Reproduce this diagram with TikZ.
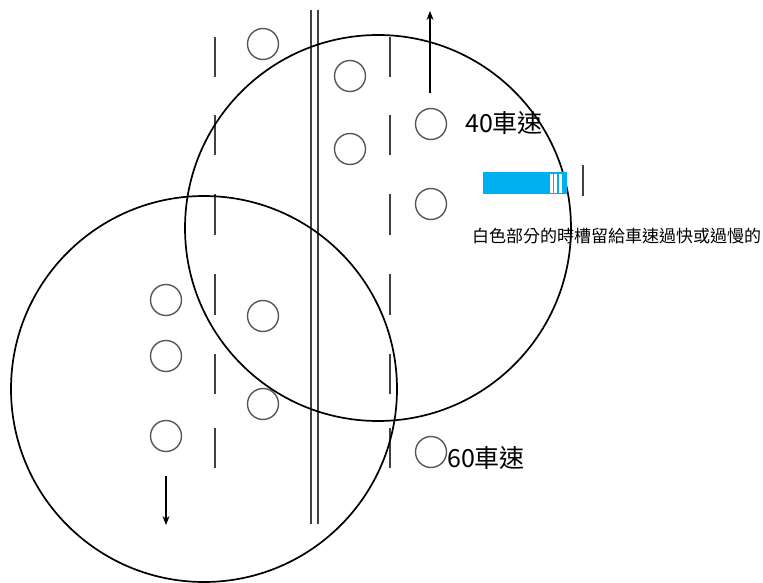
\documentclass[tikz,border=0pt]{standalone}
\usepackage{fontspec}
\newfontfamily\cjk{Noto Sans CJK TC}
\usetikzlibrary{arrows.meta}
\definecolor{barblue}{HTML}{00B0F0}
\definecolor{lanegray}{HTML}{404040}
\definecolor{cargray}{HTML}{555555}
\tikzset{
  car/.style={circle,draw=cargray,line width=1.4pt,minimum size=31pt,inner sep=0pt},
  lane/.style={draw=lanegray,line width=1.6pt},
  bigcirc/.style={draw=black,line width=1.7pt},
  lbl/.style={font=\cjk\fontsize{25}{28}\selectfont,inner sep=0pt,anchor=west},
  note/.style={font=\cjk\fontsize{17}{20}\selectfont,inner sep=0pt,anchor=west},
  dir/.style={draw=black,line width=1.3pt,-{Stealth[length=9pt,width=7pt]}}
}
\begin{document}
\begin{tikzpicture}[x=1pt,y=-1pt]
\useasboundingbox (0,0) rectangle (763,583);
% lane dashes
\foreach \a/\b in {37/77,115/155,194/235,274/315,354/394,428/468}{
  \draw[lane] (215,\a) -- (215,\b);
  \draw[lane] (390,\a) -- (390,\b);
}
% double centre line
\draw[lane] (311,10) -- (311,524);
\draw[lane] (318,10) -- (318,524);
% cars
\node[car] (c1) at (263,44) {};
\node[car] (c2) at (350,76) {};
\node[car] (c3) at (350,149) {};
\node[car] (c4) at (431,124) {};
\node[car] (c5) at (431,204) {};
\node[car] (c6) at (166,300) {};
\node[car] (c7) at (166,356) {};
\node[car] (c8) at (166,436) {};
\node[car] (c9) at (263,316) {};
\node[car] (c10) at (263,404) {};
\node[car] (c11) at (431,452) {};
% big circles
\draw[bigcirc] (378,228) circle[radius=193];
\draw[bigcirc] (204,389) circle[radius=193];
% direction arrows
\coordinate (upS) at (430,93);
\coordinate (upE) at (430,11);
\draw[dir] (upS) -- (upE);
\coordinate (dnS) at (166,476);
\coordinate (dnE) at (166,525);
\draw[dir] (dnS) -- (dnE);
% labels
\node[lbl] (t40) at (465,123) {40車速};
\node[lbl] (t60) at (447,458) {60車速};
% bar
\fill[barblue] (483,172) rectangle (566.5,194.3);
\fill[white] (550,173.5) rectangle (552.7,193);
\fill[white] (554,173.5) rectangle (557.3,193);
\fill[white] (558.7,173.5) rectangle (561.7,193);
\draw[lanegray,line width=1.3pt] (583,165) -- (583,196);
\node[note] (nt) at (472,236) {白色部分的時槽留給車速過快或過慢的};
\end{tikzpicture}
\end{document}
